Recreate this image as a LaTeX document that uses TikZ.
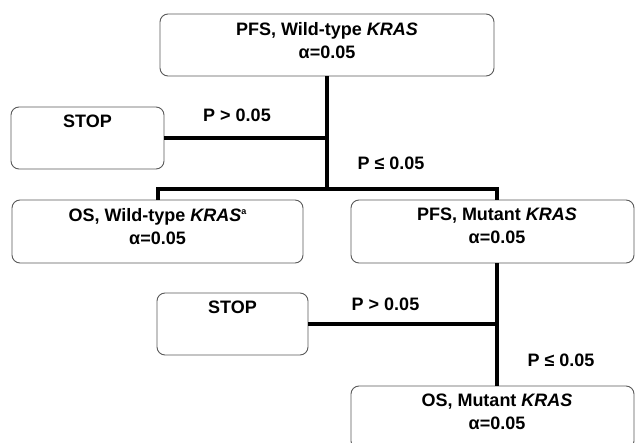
\documentclass[tikz,border=0pt]{standalone}
\usepackage{fontspec}
\setmainfont{Liberation Sans}
\usetikzlibrary{positioning}

\begin{document}
\begin{tikzpicture}[x=1pt, y=-1pt,
	box/.style={draw=black!65, line width=0.9pt, rounded corners=8pt, inner sep=0pt},
	boxtext/.style={anchor=north, inner sep=0pt, yshift=-8.5pt, align=center},
	link/.style={line width=4pt},
	font=\fontsize{18}{23}\selectfont\bfseries]
	\useasboundingbox (0,0) rectangle (635,443);

	% boxes (text hangs from the top edge)
	\node[box, minimum width=334pt, minimum height=62pt,
		label={[boxtext]north:{PFS, Wild-type \textit{KRAS}\\α=0.05}}] (pfswt) at (327,45) {};
	\node[box, minimum width=153pt, minimum height=62pt,
		label={[boxtext]north:{STOP}}] (stopa) at (87.5,138) {};
	\node[box, minimum width=291pt, minimum height=63pt,
		label={[boxtext]north:{OS, Wild-type \textit{KRAS}\raisebox{7pt}{\fontsize{9}{9}\selectfont a}\\α=0.05}}] (oswt) at (157.5,231.5) {};
	\node[box, minimum width=283pt, minimum height=63pt,
		label={[boxtext, xshift=4.5pt]north:{PFS, Mutant \textit{KRAS}\\α=0.05}}] (pfsmut) at (492.5,231.5) {};
	\node[box, minimum width=151pt, minimum height=62pt,
		label={[boxtext]north:{STOP}}] (stopb) at (232.5,324) {};
	\node[box, minimum width=283pt, minimum height=63pt,
		label={[boxtext, xshift=4.5pt]north:{OS, Mutant \textit{KRAS}\\α=0.05}}] (osmut) at (492.5,417.5) {};

	% junctions
	\coordinate (j1) at (327,189);
	\coordinate (j2) at (497,200);

	% tree lines
	\draw[link] (pfswt) -- (j1);
	\draw[link] (stopa.east) -- (stopa.east -| j1);
	\draw[link] (oswt.north) |- (j1) -| (j2);
	\draw[link] (j2 |- pfsmut.south) -- (j2 |- osmut.north);
	\draw[link] (stopb.east) -- (stopb.east -| j2);

	% p-value labels
	\node (pgta) at (237,115) {P > 0.05};
	\node (pleqa) at (391,163) {P ≤ 0.05};
	\node (pgtb) at (385.5,304) {P > 0.05};
	\node (pleqb) at (561,360) {P ≤ 0.05};
\end{tikzpicture}
\end{document}
